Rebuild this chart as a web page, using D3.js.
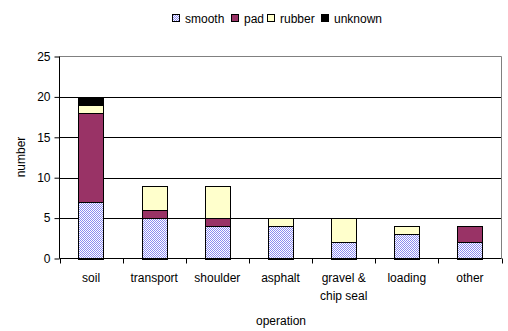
<!DOCTYPE html>
<html><head><meta charset="utf-8">
<script src="https://cdn.jsdelivr.net/npm/d3@7"></script>
<style>body{margin:0;background:#fff}svg{display:block}text{font-family:"Liberation Sans",Arial,sans-serif;font-size:12px;fill:#000}</style>
</head><body><svg id="c" width="508" height="331"></svg>
<script>
const categories = ["soil","transport","shoulder","asphalt","gravel & chip seal","loading","other"];
const seriesNames = ["smooth","pad","rubber","unknown"];
const smooth  = [7,5,4,4,2,3,2];
const pad     = [11,1,1,0,0,0,2];
const rubber  = [1,3,4,1,3,1,0];
const unknown = [1,0,0,0,0,0,0];
const yTicks = [0,5,10,15,20,25];
const colors = ["url(#hatch)","#993366","#FFFFCC","#000000"];

const rows = categories.map((c,i)=>({cat:c,smooth:smooth[i],pad:pad[i],rubber:rubber[i],unknown:unknown[i]}));
const svg = d3.select("#c");
const defs = svg.append("defs");
const pat = defs.append("pattern").attr("id","hatch").attr("patternUnits","userSpaceOnUse").attr("width",2).attr("height",2);
pat.append("rect").attr("width",2).attr("height",2).attr("fill","#ffffff");
pat.append("rect").attr("width",1).attr("height",1).attr("fill","#8c8cf0");
pat.append("rect").attr("x",1).attr("y",1).attr("width",1).attr("height",1).attr("fill","#8c8cf0");

const L=59.5, R=501.5, T=56.5, B=258.5;
const x = d3.scaleBand().domain(categories).range([L,R]).paddingInner(0.6).paddingOuter(0.3);
const y = d3.scaleLinear().domain([0,25]).range([B,T]);

svg.append("g").selectAll("line").data(yTicks.filter(t=>t>0&&t<25)).join("line")
  .attr("x1",L).attr("x2",R).attr("y1",d=>Math.round(y(d))+0.5).attr("y2",d=>Math.round(y(d))+0.5).attr("stroke","#000");
svg.append("path").attr("d",`M${L},${T}H${R}V${B}`).attr("fill","none").attr("stroke","#808080");

const stack = d3.stack().keys(seriesNames)(rows);
svg.append("g").selectAll("g").data(stack).join("g")
  .attr("fill",(d,i)=>colors[i])
  .selectAll("rect").data(d=>d.filter(p=>p[1]>p[0])).join("rect")
  .attr("x",d=>Math.round(x(d.data.cat))+0.5).attr("width",Math.round(x.bandwidth()))
  .attr("y",d=>Math.round(y(d[1]))+0.5).attr("height",d=>Math.round(y(d[0]))-Math.round(y(d[1])))
  .attr("stroke","#000").attr("stroke-width",1);

const ya = svg.append("g").attr("transform",`translate(${L},0)`).call(d3.axisLeft(y).tickValues(yTicks).tickSize(5).tickPadding(4).tickFormat(d3.format("d")));
ya.attr("font-size",null).attr("font-family",null);
ya.select(".domain").attr("d",`M0,${T}V${B}`).attr("stroke","#000");
ya.selectAll(".tick line").attr("stroke","#000");

const step = (R-L)/categories.length;
const xa = svg.append("g").attr("transform",`translate(0,${B})`);
xa.append("line").attr("x1",L).attr("x2",R).attr("stroke","#000");
xa.selectAll("line.t").data(d3.range(categories.length+1)).join("line").attr("class","t")
  .attr("x1",i=>Math.round(L+i*step)+0.5).attr("x2",i=>Math.round(L+i*step)+0.5).attr("y1",0).attr("y2",5).attr("stroke","#000");
const labels = [["soil"],["transport"],["shoulder"],["asphalt"],["gravel &","chip seal"],["loading"],["other"]];
xa.selectAll("text").data(categories).join("text")
  .attr("text-anchor","middle").attr("x",d=>x(d)+x.bandwidth()/2)
  .each(function(d,i){const t=d3.select(this);labels[i].forEach((s,j)=>t.append("tspan").attr("x",x(d)+x.bandwidth()/2).attr("y",23+j*18).text(s));});

svg.append("text").attr("x",281).attr("y",325).attr("text-anchor","middle").text("operation");
svg.append("text").attr("transform","translate(25,157) rotate(-90)").attr("text-anchor","middle").text("number");

const lx=[172,231,267,321];
const lg = svg.append("g").selectAll("g").data(seriesNames).join("g").attr("transform",(d,i)=>`translate(${lx[i]},14)`);
lg.append("rect").attr("x",0.5).attr("y",0.5).attr("width",7).attr("height",7).attr("fill",(d,i)=>colors[i]).attr("stroke","#000");
lg.append("text").attr("x",13).attr("y",8.5).text(d=>d);
</script></body></html>
